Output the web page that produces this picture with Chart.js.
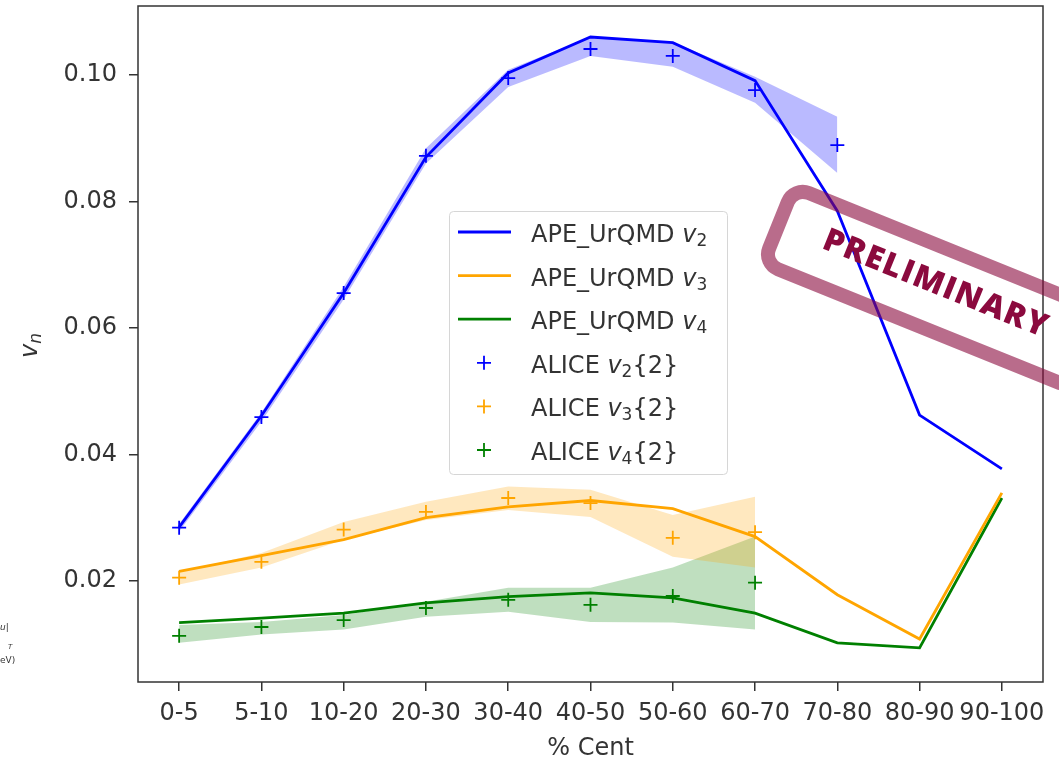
<!DOCTYPE html>
<html>
<head>
<meta charset="utf-8">
<title>vn vs centrality</title>
<script src="https://cdn.jsdelivr.net/npm/chart.js@4.4.0/dist/chart.umd.min.js"></script>
<style>
    body { margin: 0; background: #fff; }
    #wrap { position: relative; width: 1059px; height: 760px; }
    .crop { position: absolute; font-family: 'DejaVu Sans', sans-serif; font-size: 9px; color: #333; line-height: 1; }
</style>
</head>
<body>
<div id="wrap">
    <canvas id="vnChart"></canvas>
    <span class="crop" style="left:0px; top:623px; font-style:italic;">u|</span>
    <span class="crop" style="left:8px; top:644px; font-style:italic; font-size:7px;">T</span>
    <span class="crop" style="left:0px; top:656px;">eV)</span>
</div>
<script>
const centralities = ['0-5', '5-10', '10-20', '20-30', '30-40', '40-50', '50-60', '60-70', '70-80', '80-90', '90-100'];
const yTicks = [0.02, 0.04, 0.06, 0.08, 0.10];

// APE_UrQMD model curves
const apeV2 = [0.0285, 0.0461, 0.0655, 0.0870, 0.1003, 0.1060, 0.1051, 0.0991, 0.0785, 0.0462, 0.0377];
const apeV3 = [0.0215, 0.0240, 0.0265, 0.0300, 0.0317, 0.0327, 0.0314, 0.0270, 0.0178, 0.0108, 0.0339];
const apeV4 = [0.0134, 0.0141, 0.0149, 0.0165, 0.0175, 0.0181, 0.0173, 0.0149, 0.0102, 0.0094, 0.0331];

// ALICE vn{2} points
const aliceV2 = [0.0284, 0.0459, 0.0655, 0.0872, 0.0995, 0.1041, 0.1030, 0.0976, 0.0889];
const aliceV3 = [0.0205, 0.0230, 0.0281, 0.0309, 0.0331, 0.0323, 0.0268, 0.0277];
const aliceV4 = [0.0113, 0.0127, 0.0138, 0.0157, 0.0170, 0.0162, 0.0176, 0.0197];

// shaded bands
const v2Low  = [0.0278, 0.0452, 0.0645, 0.0860, 0.0981, 0.1030, 0.1013, 0.0956, 0.0845];
const v2High = [0.0290, 0.0466, 0.0665, 0.0884, 0.1008, 0.1060, 0.1052, 0.0997, 0.0934];
const v3Low  = [0.0194, 0.0221, 0.0265, 0.0296, 0.0312, 0.0301, 0.0238, 0.0221];
const v3High = [0.0214, 0.0244, 0.0293, 0.0325, 0.0349, 0.0344, 0.0304, 0.0333];
const v4Low  = [0.0102, 0.0115, 0.0123, 0.0143, 0.0151, 0.0135, 0.0134, 0.0123];
const v4High = [0.0130, 0.0135, 0.0146, 0.0167, 0.0189, 0.0189, 0.0221, 0.0270];

const BLUE = '#0000ff';
const ORANGE = '#ffa500';
const GREEN = '#008000';
const TEXT = '#333';
const FONT = "'DejaVu Sans', sans-serif";

function toXY(arr) {
    return arr.map((y, i) => ({ x: i, y: y }));
}

function bandPair(low, high, fillColor) {
    return [
        { data: toXY(low), borderWidth: 0, pointRadius: 0, fill: false, order: 3 },
        { data: toXY(high), borderWidth: 0, pointRadius: 0, fill: '-1', backgroundColor: fillColor, order: 3 }
    ];
}

function modelLine(values, color) {
    return { data: toXY(values), borderColor: color, borderWidth: 2.8, pointRadius: 0, tension: 0, fill: false, order: 2 };
}

function alicePoints(values, color) {
    return { data: toXY(values), showLine: false, pointStyle: 'cross', pointRadius: 7,
             pointBorderWidth: 1.8, borderColor: color, backgroundColor: color, order: 1 };
}

// draws text like "APE_UrQMD v_2" or "ALICE v_2{2}"
function drawMathLabel(ctx, x, y, prefix, sub, suffix) {
    ctx.textBaseline = 'alphabetic';
    ctx.textAlign = 'left';
    ctx.font = '24px ' + FONT;
    ctx.fillText(prefix, x, y);
    x += ctx.measureText(prefix).width;
    ctx.font = 'oblique 24px ' + FONT;
    ctx.fillText('v', x, y);
    x += ctx.measureText('v').width;
    ctx.font = '17px ' + FONT;
    ctx.fillText(sub, x, y + 4);
    x += ctx.measureText(sub).width;
    if (suffix) {
        ctx.font = '24px ' + FONT;
        ctx.fillText(suffix, x, y);
    }
}

const decorPlugin = {
    id: 'decor',
    afterDatasetsDraw(chart) {
        const ctx = chart.ctx;
        const a = chart.chartArea;
        ctx.save();

        // frame
        ctx.strokeStyle = TEXT;
        ctx.lineWidth = 1.5;
        ctx.strokeRect(a.left, a.top, a.right - a.left, a.bottom - a.top);

        // axis titles
        ctx.fillStyle = TEXT;
        ctx.font = '24px ' + FONT;
        ctx.textAlign = 'center';
        ctx.textBaseline = 'alphabetic';
        ctx.fillText('% Cent', (a.left + a.right) / 2, 755);

        ctx.save();
        ctx.translate(37, (a.top + a.bottom) / 2 + 14);
        ctx.rotate(-Math.PI / 2);
        ctx.font = 'oblique 24px ' + FONT;
        ctx.textAlign = 'left';
        ctx.fillText('v', 0, 0);
        const vw = ctx.measureText('v').width;
        ctx.font = 'oblique 17px ' + FONT;
        ctx.fillText('n', vw, 4);
        ctx.restore();

        // legend
        ctx.beginPath();
        ctx.roundRect(449.5, 211.5, 278, 263, 4);
        ctx.fillStyle = 'rgba(255,255,255,0.8)';
        ctx.fill();
        ctx.strokeStyle = '#d6d6d6';
        ctx.lineWidth = 1;
        ctx.stroke();

        const rows = [
            { kind: 'line', color: BLUE, prefix: 'APE_UrQMD ', sub: '2', suffix: '' },
            { kind: 'line', color: ORANGE, prefix: 'APE_UrQMD ', sub: '3', suffix: '' },
            { kind: 'line', color: GREEN, prefix: 'APE_UrQMD ', sub: '4', suffix: '' },
            { kind: 'mark', color: BLUE, prefix: 'ALICE ', sub: '2', suffix: '{2}' },
            { kind: 'mark', color: ORANGE, prefix: 'ALICE ', sub: '3', suffix: '{2}' },
            { kind: 'mark', color: GREEN, prefix: 'ALICE ', sub: '4', suffix: '{2}' }
        ];
        rows.forEach((r, i) => {
            const ry = 232 + i * 43.6;
            ctx.strokeStyle = r.color;
            ctx.beginPath();
            if (r.kind === 'line') {
                ctx.lineWidth = 2.8;
                ctx.moveTo(458, ry);
                ctx.lineTo(511, ry);
            } else {
                ctx.lineWidth = 1.8;
                ctx.moveTo(477, ry); ctx.lineTo(491, ry);
                ctx.moveTo(484, ry - 7); ctx.lineTo(484, ry + 7);
            }
            ctx.stroke();
            ctx.fillStyle = TEXT;
            drawMathLabel(ctx, 531, ry + 10, r.prefix, r.sub, r.suffix);
        });

        ctx.restore();
    },
    afterDraw(chart) {
        // PRELIMINARY stamp
        const ctx = chart.ctx;
        ctx.save();
        ctx.translate(790, 178);
        ctx.rotate(22 * Math.PI / 180);
        ctx.beginPath();
        ctx.roundRect(7, 7, 335, 82, 16);
        ctx.strokeStyle = 'rgba(139,10,62,0.6)';
        ctx.lineWidth = 14;
        ctx.stroke();
        ctx.fillStyle = '#8b0a3e';
        ctx.font = "800 32px 'Open Sans', sans-serif";
        ctx.letterSpacing = '1.5px';
        ctx.textAlign = 'center';
        ctx.textBaseline = 'middle';
        ctx.fillText('PRELIMINARY', 175, 44);
        ctx.restore();
    }
};

const datasets = [
    ...bandPair(v2Low, v2High, 'rgba(0,0,255,0.27)'),
    ...bandPair(v3Low, v3High, 'rgba(255,165,0,0.25)'),
    ...bandPair(v4Low, v4High, 'rgba(0,128,0,0.25)'),
    modelLine(apeV2, BLUE),
    modelLine(apeV3, ORANGE),
    modelLine(apeV4, GREEN),
    alicePoints(aliceV2, BLUE),
    alicePoints(aliceV3, ORANGE),
    alicePoints(aliceV4, GREEN)
];

new Chart(document.getElementById('vnChart'), {
    type: 'line',
    data: { datasets: datasets },
    options: {
        responsive: true,
        maintainAspectRatio: false,
        animation: false,
        layout: { autoPadding: false, padding: { top: 6, right: 16, left: 0, bottom: 0 } },
        plugins: {
            legend: { display: false },
            tooltip: { enabled: false }
        },
        scales: {
            x: {
                type: 'linear',
                min: -0.5,
                max: 10.5,
                afterBuildTicks: (scale) => { scale.ticks = centralities.map((c, i) => ({ value: i })); },
                afterFit: (scale) => { scale.height = 78; scale.paddingLeft = 0; scale.paddingRight = 0; },
                ticks: {
                    callback: (v) => centralities[v],
                    color: TEXT,
                    font: { family: FONT, size: 24 },
                    padding: 8,
                    maxRotation: 0,
                    autoSkip: false
                },
                grid: { drawOnChartArea: false, drawTicks: true, tickLength: 9, color: TEXT, lineWidth: 1.5 },
                border: { display: false }
            },
            y: {
                min: 0.0040,
                max: 0.1109,
                afterBuildTicks: (scale) => { scale.ticks = yTicks.map(v => ({ value: v })); },
                afterFit: (scale) => { scale.width = 138; scale.paddingTop = 0; scale.paddingBottom = 0; },
                ticks: {
                    callback: (v) => v.toFixed(2),
                    color: TEXT,
                    font: { family: FONT, size: 24 },
                    padding: 12
                },
                grid: { drawOnChartArea: false, drawTicks: true, tickLength: 9, color: TEXT, lineWidth: 1.5 },
                border: { display: false }
            }
        }
    },
    plugins: [decorPlugin]
});
</script>
</body>
</html>
